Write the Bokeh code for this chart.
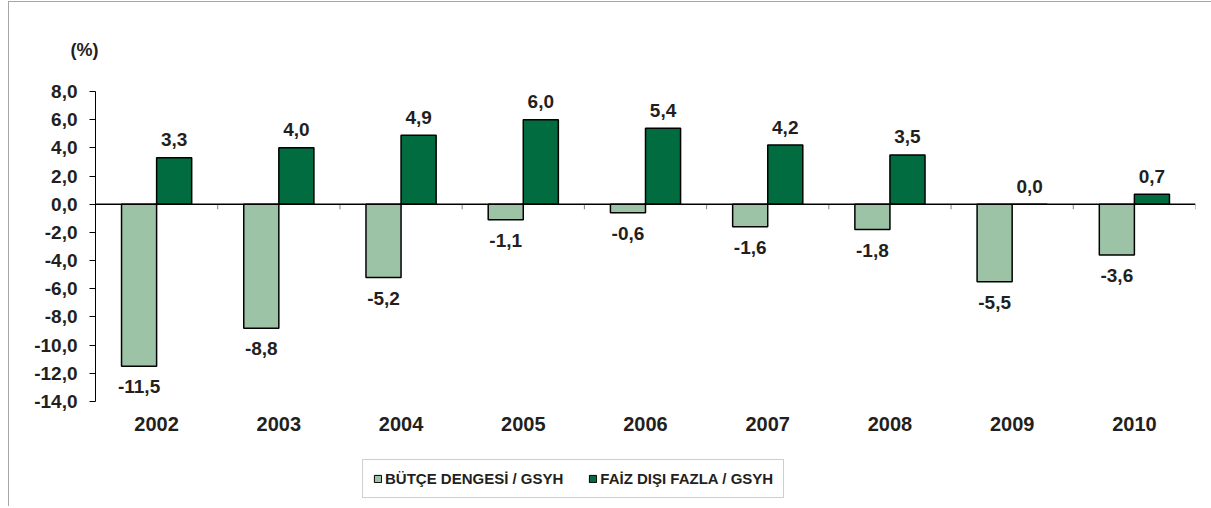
from bokeh.plotting import figure
from bokeh.layouts import column
from bokeh.models import (ColumnDataSource, Range1d, FixedTicker, Legend, LegendItem, Span)
from bokeh.transform import dodge
from bokeh.core.properties import value
from bokeh.embed import file_html
from bokeh.resources import INLINE

years = ["2002", "2003", "2004", "2005", "2006", "2007", "2008", "2009", "2010"]
butce = [-11.5, -8.8, -5.2, -1.1, -0.6, -1.6, -1.8, -5.5, -3.6]
faiz = [3.3, 4.0, 4.9, 6.0, 5.4, 4.2, 3.5, 0.0, 0.7]
y_ticks = [-14, -12, -10, -8, -6, -4, -2, 0, 2, 4, 6, 8]
series_names = ["BÜTÇE DENGESİ / GSYH", "FAİZ DIŞI FAZLA / GSYH"]
unit_label = "(%)"

LIGHT = "#9dc3a6"
DARK = "#006c40"
FONT = "Liberation Sans"
TXT = "#231f20"

def fmt(v):
    return f"{v:.1f}".replace(".", ",")

src = ColumnDataSource(dict(
    year=years, butce=butce, faiz=faiz,
    butce_lbl=[fmt(v) for v in butce], faiz_lbl=[fmt(v) for v in faiz],
    zero=[0] * len(years), tick_end=[-0.36] * len(years),
))

p = figure(x_range=years, y_range=Range1d(min(y_ticks), max(y_ticks)), width=1202, height=450,
           output_backend="svg", toolbar_location=None,
           min_border_left=86, min_border_right=16, min_border_top=89, min_border_bottom=51)
p.outline_line_color = None
p.xgrid.grid_line_color = None
p.ygrid.grid_line_color = None
p.border_fill_color = "white"

p.title.text = unit_label
p.title.align = "left"
p.title.offset = -25
p.title.standoff = 63
p.title.text_font = FONT
p.title.text_font_style = "bold"
p.title.text_font_size = "18px"
p.title.text_color = TXT

W = 0.287
r1 = p.vbar(x=dodge("year", -W / 2, range=p.x_range), top="butce", bottom=0, width=W,
            source=src, fill_color=LIGHT, line_color="black", line_width=1.5)
r2 = p.vbar(x=dodge("year", W / 2, range=p.x_range), top="faiz", bottom=0, width=W,
            source=src, fill_color=DARK, line_color="black", line_width=1.5)

# zero line and category boundary ticks
p.add_layout(Span(location=0, dimension="width", line_color="black", line_width=1.5))
p.segment(x0=dodge("year", 0.5, range=p.x_range), y0="zero",
          x1=dodge("year", 0.5, range=p.x_range), y1="tick_end",
          source=src, line_color="#808080", line_width=1)

# value labels
p.text(x=dodge("year", -W / 2, range=p.x_range), y="butce", text="butce_lbl", source=src,
       text_align="center", text_baseline="top", y_offset=14,
       text_font=value(FONT), text_font_style="bold", text_font_size="19px", text_color=TXT)
p.text(x=dodge("year", W / 2, range=p.x_range), y="faiz", text="faiz_lbl", source=src,
       text_align="center", text_baseline="alphabetic", y_offset=-18,
       text_font=value(FONT), text_font_style="bold", text_font_size="19px", text_color=TXT)

# axes
p.yaxis.ticker = FixedTicker(ticks=y_ticks)
p.yaxis.major_label_overrides = {t: fmt(t) for t in y_ticks}
p.yaxis.axis_line_color = "black"
p.yaxis.major_tick_line_color = "black"
p.yaxis.major_tick_out = 6
p.yaxis.major_tick_in = 0
p.yaxis.minor_tick_line_color = None
p.yaxis.major_label_text_font = FONT
p.yaxis.major_label_text_font_style = "bold"
p.yaxis.major_label_text_font_size = "19px"
p.yaxis.major_label_text_color = TXT
p.yaxis.major_label_standoff = 12

p.xaxis.axis_line_color = None
p.xaxis.major_tick_line_color = None
p.xaxis.minor_tick_line_color = None
p.xaxis.major_label_text_font = FONT
p.xaxis.major_label_text_font_style = "bold"
p.xaxis.major_label_text_font_size = "20px"
p.xaxis.major_label_text_color = TXT
p.xaxis.major_label_standoff = 9

# legend strip (separate figure below the chart); swatch glyphs sit outside its view
lg = figure(x_range=Range1d(0, 1), y_range=Range1d(0, 1), width=1202, height=54,
            output_backend="svg", toolbar_location=None, x_axis_type=None, y_axis_type=None,
            min_border=0)
lg.outline_line_color = None
lg.xgrid.grid_line_color = None
lg.ygrid.grid_line_color = None
hidden = ColumnDataSource(dict(x=[-50], top=[-50]))
g1 = lg.vbar(x="x", top="top", bottom=-49, width=0.1, source=hidden,
             fill_color=LIGHT, line_color="black", line_width=1)
g2 = lg.vbar(x="x", top="top", bottom=-49, width=0.1, source=hidden,
             fill_color=DARK, line_color="black", line_width=1)
legend = Legend(items=[LegendItem(label=series_names[0], renderers=[g1]),
                       LegendItem(label=series_names[1], renderers=[g2])],
                orientation="horizontal", location=(267, 8),
                label_text_font=FONT, label_text_font_style="bold",
                label_text_font_size="15px", label_text_color=TXT, label_height=16,
                glyph_width=9, glyph_height=9, label_standoff=3, spacing=25,
                padding=10, margin=0, border_line_color="#a0a0a0", border_line_width=1,
                background_fill_color="white", background_fill_alpha=1)
lg.add_layout(legend, "center")

layout = column(p, lg, spacing=0)
layout.styles = {"margin-left": "8px", "margin-top": "1px",
                 "border-left": "1px solid #a6a6a6", "border-top": "1px solid #a6a6a6"}

open("out.html", "w").write(file_html(layout, INLINE))
